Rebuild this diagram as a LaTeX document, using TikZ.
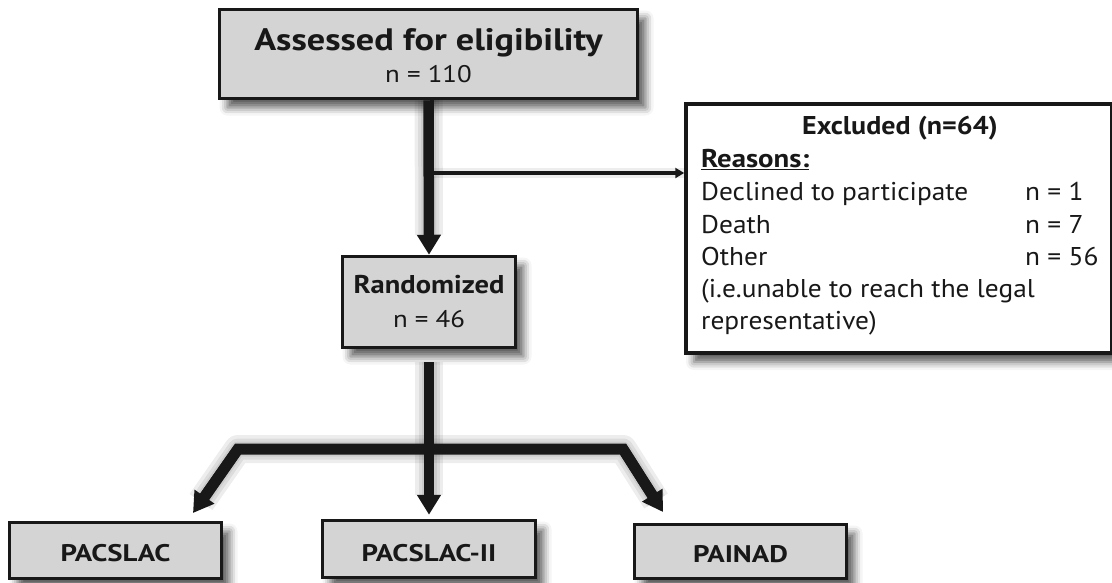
\documentclass[tikz,border=0pt]{standalone}
\usepackage{fontspec}
\usepackage{graphicx}
\setmainfont{PT Sans}
\usetikzlibrary{arrows.meta,shadows.blur}
\definecolor{boxgray}{RGB}{212,212,212}
\definecolor{ink}{RGB}{24,24,24}
\newcommand{\wide}[2]{\scalebox{#1}[1]{#2}}
\begin{document}
\begin{tikzpicture}[x=1pt,y=-1pt,
  shadowed/.style={blur shadow={shadow xshift=8pt, shadow yshift=-9pt, shadow blur radius=8pt, shadow opacity=65}},
  graybox/.style={draw=ink, line width=3.5pt, fill=boxgray, inner sep=0pt, shadowed},
  whitebox/.style={draw=ink, line width=3.5pt, fill=white, inner sep=0pt, shadowed},
  titletext/.style={anchor=base, text=ink, inner sep=0pt, font=\bfseries\fontsize{31}{33}\selectfont},
  subtext/.style={anchor=base, text=ink, inner sep=0pt, font=\fontsize{24}{26}\selectfont},
  midtitle/.style={anchor=base, text=ink, inner sep=0pt, font=\bfseries\fontsize{25.7}{28}\selectfont},
  listtext/.style={anchor=base west, text=ink, font=\fontsize{25.7}{28}\selectfont, inner sep=0pt},
  listhead/.style={anchor=base, text=ink, font=\bfseries\fontsize{25.7}{28}\selectfont, inner sep=0pt},
  armtext/.style={anchor=base, text=ink, inner sep=0pt, font=\bfseries\fontsize{24}{26}\selectfont},
  fatarrow/.style={draw=ink, line width=10.5pt, -{Triangle[width=23pt,length=20pt]}},
  fatline/.style={draw=ink, line width=11pt, line join=miter},
  thinarrow/.style={draw=ink, line width=4pt, -{Triangle[width=10pt,length=9pt]}},
  glow/.style={draw=black, opacity=0.07, line width=#1},
]
\useasboundingbox (0,0) rectangle (1112,582);

% boxes
\node[graybox, minimum width=418pt, minimum height=89pt] (top) at (428.5,54) {};
\node[graybox, minimum width=173pt, minimum height=91pt] (rand) at (429,302) {};
\node[whitebox, minimum width=426pt, minimum height=249pt] (excl) at (899,228.5) {};
\node[graybox, minimum width=212pt, minimum height=56pt] (pac) at (115.5,550.5) {};
\node[graybox, minimum width=213pt, minimum height=57pt] (pii) at (429,549) {};
\node[graybox, minimum width=212pt, minimum height=54pt] (pain) at (740.5,551.5) {};

% texts
\node[titletext] (t1) at (428.5,50) {\wide{1.17}{Assessed for eligibility}};
\node[subtext] (t2) at (428.5,82) {\wide{1.12}{n = 110}};
\node[midtitle] (r1) at (429,293) {\wide{1.11}{Randomized}};
\node[subtext] (r2) at (429,327) {\wide{1.12}{n = 46}};
\node[listhead] (e0) at (900,134) {\wide{1.09}{Excluded (n=64)}};
\node[listtext] (e1) at (701,167) {\wide{1.12}{\bfseries\underline{Reasons:}}};
\node[listtext] (e2) at (701,200) {\wide{1.065}{Declined to participate}};
\node[listtext] (e3) at (701,233) {\wide{1.065}{Death}};
\node[listtext] (e4) at (701,265) {\wide{1.065}{Other}};
\node[listtext] (e5) at (701,297) {\wide{1.065}{(i.e.unable to reach the legal}};
\node[listtext] (e6) at (701,329) {\wide{1.065}{representative)}};
\node[listtext] (n2) at (1025,200) {\wide{1.065}{n = 1}};
\node[listtext] (n3) at (1025,233) {\wide{1.065}{n = 7}};
\node[listtext] (n4) at (1025,265) {\wide{1.065}{n = 56}};
\node[armtext] (a1) at (115.5,561) {\wide{1.2}{PACSLAC}};
\node[armtext] (a2) at (429,561) {\wide{1.2}{PACSLAC-II}};
\node[armtext] (a3) at (740.5,562) {\wide{1.2}{PAINAD}};

% coordinates
\coordinate (branch) at (429,173);
\coordinate (lbend) at (238,449);
\coordinate (rbend) at (623,449);
\coordinate (ltip) at (193,513);
\coordinate (rtip) at (663,512);
\coordinate (stemtop) at ([yshift=-13pt]rand.south);

% arrow glows (soft shadows)
\begin{scope}[shift={(6,6)}]
  \foreach \w in {28,21,15} {
    \draw[glow=\w pt] (top.south) -- ([yshift=20pt]rand.north);
    \draw[glow=\w pt] (stemtop) -- ([yshift=24pt]pii.north);
    \draw[glow=\w pt, line join=round] ([shift={(8,-11)}]ltip) -- (lbend) -- (rbend) -- ([shift={(-7,-11)}]rtip);
  }
  \draw[glow=10pt] (branch) -- (branch -| excl.west);
\end{scope}

% connectors
\draw[fatarrow] (top.south) -- (rand.north);
\draw[thinarrow] (branch) -- (branch -| excl.west);
\draw[fatarrow] (stemtop) -- ([yshift=4pt]pii.north);
\draw[fatline] ([shift={(8,-11)}]ltip) -- (lbend) -- (rbend) -- ([shift={(-7,-11)}]rtip);
\draw[fatarrow] (lbend) -- (ltip);
\draw[fatarrow] (rbend) -- (rtip);
\end{tikzpicture}
\end{document}
